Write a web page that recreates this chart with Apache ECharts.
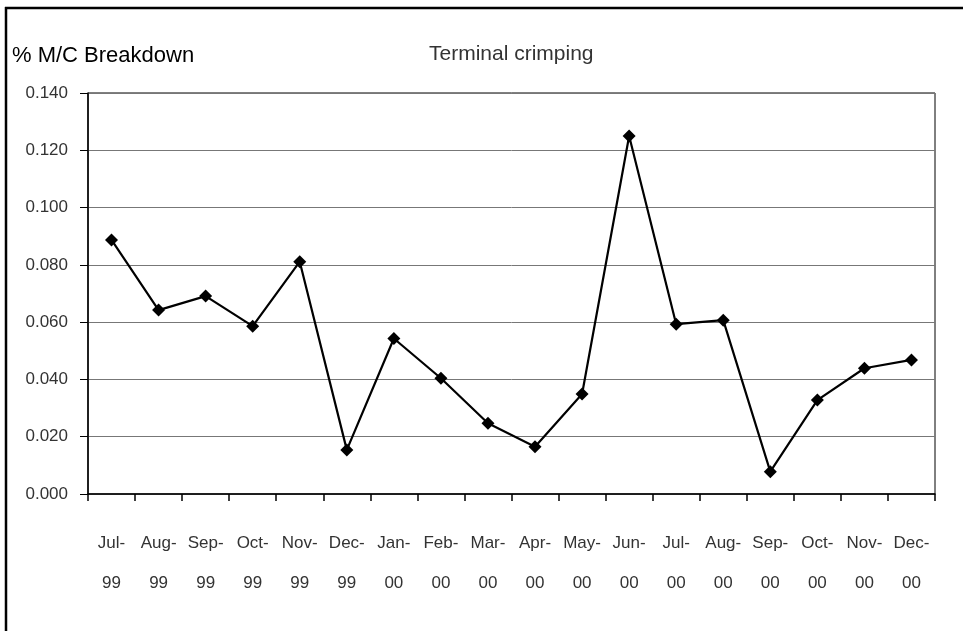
<!DOCTYPE html>
<html>
<head>
<meta charset="utf-8">
<script src="https://cdn.jsdelivr.net/npm/echarts@6/dist/echarts.min.js"></script>
<style>
  html, body { margin: 0; padding: 0; background: #fff; }
  #chart { width: 963px; height: 631px; }
</style>
</head>
<body>
<div id="chart"></div>
<script>
// Monthly machine breakdown ratio, terminal crimping process
const months = ['Jul-', 'Aug-', 'Sep-', 'Oct-', 'Nov-', 'Dec-', 'Jan-', 'Feb-', 'Mar-', 'Apr-', 'May-', 'Jun-',
                'Jul-', 'Aug-', 'Sep-', 'Oct-', 'Nov-', 'Dec-'];
const years = ['99', '99', '99', '99', '99', '99', '00', '00', '00', '00', '00', '00',
               '00', '00', '00', '00', '00', '00'];
const breakdown = [0.0887, 0.0642, 0.0691, 0.0586, 0.0811, 0.0154, 0.0543, 0.0404, 0.0247,
                   0.0165, 0.0349, 0.1250, 0.0593, 0.0607, 0.0078, 0.0328, 0.0439, 0.0468];
const yTicks = { min: 0, max: 0.14, step: 0.02 };

const categories = months.map((m, i) => m + '\n' + years[i]);

const chart = echarts.init(document.getElementById('chart'));
const font = '"Liberation Sans", Arial, sans-serif';

chart.setOption({
  backgroundColor: '#fff',
  animation: false,
  title: [
    {
      text: '% M/C Breakdown',
      left: 12, top: 45, padding: 0,
      textStyle: { fontFamily: font, fontSize: 22, fontWeight: 'normal', color: '#000' }
    },
    {
      text: 'Terminal crimping',
      left: 429, top: 44, padding: 0,
      textStyle: { fontFamily: font, fontSize: 21, fontWeight: 'normal', color: '#333' }
    }
  ],
  grid: {
    left: 88, right: 28, top: 93, bottom: 137,
    show: true, borderColor: '#000', borderWidth: 1, backgroundColor: 'transparent'
  },
  xAxis: {
    type: 'category',
    data: categories,
    boundaryGap: true,
    axisLine: { lineStyle: { color: '#000', width: 1.5 } },
    axisTick: { show: true, length: 7, lineStyle: { color: '#000', width: 1.5 } },
    axisLabel: {
      interval: 0, margin: 29, lineHeight: 40,
      fontFamily: font, fontSize: 17, color: '#333'
    },
    splitLine: { show: false }
  },
  yAxis: {
    type: 'value',
    min: yTicks.min, max: yTicks.max, interval: yTicks.step,
    axisLine: { show: true, lineStyle: { color: '#000', width: 1.5 } },
    axisTick: { show: true, length: 8, lineStyle: { color: '#000', width: 1 } },
    axisLabel: {
      margin: 20, fontFamily: font, fontSize: 17, color: '#333',
      formatter: v => v.toFixed(3)
    },
    splitLine: { show: true, lineStyle: { color: '#777', width: 1 } }
  },
  series: [{
    type: 'line',
    data: breakdown,
    symbol: 'diamond',
    symbolSize: 13,
    itemStyle: { color: '#000' },
    lineStyle: { color: '#000', width: 2.2 },
    z: 5
  }],
  graphic: [
    // outer frame: top and left edges
    { type: 'line', shape: { x1: 5, y1: 8, x2: 963, y2: 8 }, style: { stroke: '#000', lineWidth: 2.5 } },
    { type: 'line', shape: { x1: 6, y1: 7, x2: 6, y2: 631 }, style: { stroke: '#000', lineWidth: 2.5 } }
  ]
});
</script>
</body>
</html>
